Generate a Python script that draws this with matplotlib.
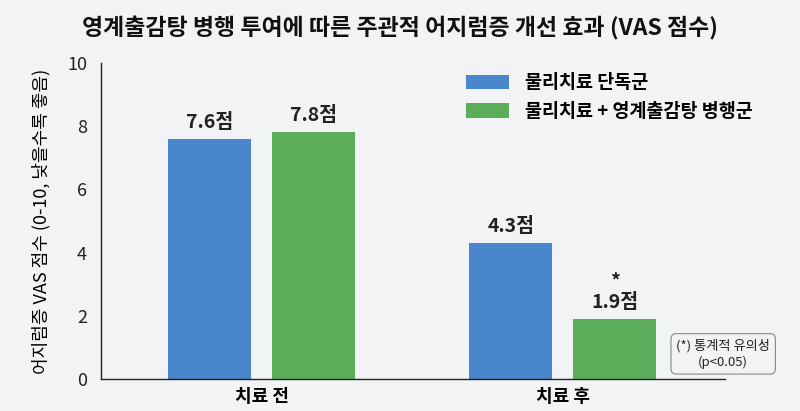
import matplotlib.pyplot as plt
import numpy as np

plt.rcParams['font.family'] = ['Noto Sans CJK KR', 'DejaVu Sans']

categories = ['치료 전', '치료 후']
series_names = ['물리치료 단독군', '물리치료 + 영계출감탕 병행군']
pt_only = [7.6, 4.3]
combined = [7.8, 1.9]
significant = [False, True]

bg = '#f1f3f5'
colors = ['#4a86cb', '#5bad5a']

fig = plt.figure(figsize=(8, 4.11), dpi=100, facecolor=bg)
ax = fig.add_axes([0.126, 0.078, 0.78, 0.769])
ax.set_facecolor(bg)

x = np.arange(len(categories))
width = 0.276
offset = 0.173

for vals, color, name, sign in [(pt_only, colors[0], series_names[0], -1),
                                (combined, colors[1], series_names[1], 1)]:
    bars = ax.bar(x + sign * offset, vals, width, color=color, label=name)
    for i, (b, v) in enumerate(zip(bars, vals)):
        cx = b.get_x() + b.get_width() / 2
        ax.text(cx, v + 0.22, f'{v}점', ha='center', va='bottom',
                fontsize=14, fontweight='bold', color='#222222')
        if sign == 1 and significant[i]:
            ax.text(cx, v + 0.9, '*', ha='center', va='bottom',
                    fontsize=14, fontweight='bold', color='#222222')

ax.set_xlim(-0.535, 1.538)
ax.set_ylim(0, 10)
ax.set_yticks([0, 2, 4, 6, 8, 10])
ax.set_xticks(x)
ax.set_xticklabels(categories, fontsize=13, fontweight='bold')
for lbl in ax.get_yticklabels():
    lbl.set_fontweight('light')
ax.tick_params(axis='y', length=0, labelsize=13, pad=10, colors='#222222')
ax.tick_params(axis='x', length=0, pad=6)
for s in ['top', 'right']:
    ax.spines[s].set_visible(False)
for s in ['left', 'bottom']:
    ax.spines[s].set_color('#222222')
    ax.spines[s].set_linewidth(1.0)

ax.set_ylabel('어지럼증 VAS 점수 (0-10, 낮을수록 좋음)', fontsize=13,
              fontweight='medium', labelpad=12)

ax.legend(loc='upper right', bbox_to_anchor=(0.962, 0.862),
          bbox_transform=fig.transFigure, frameon=False,
          prop={'size': 13.3, 'weight': 'bold'}, handlelength=2.3,
          handleheight=0.85, handletextpad=0.9, labelspacing=0.5)

fig.text(0.5, 0.932, '영계출감탕 병행 투여에 따른 주관적 어지럼증 개선 효과 (VAS 점수)',
         ha='center', va='center', fontsize=16.5, fontweight='bold', color='#111111')

fig.text(0.904, 0.139, '(*) 통계적 유의성\n(p<0.05)', ha='center', va='center',
         fontsize=9.5, color='#222222', linespacing=1.3,
         bbox=dict(boxstyle='round,pad=0.4', facecolor=bg, edgecolor='#888888', linewidth=0.8))

fig.savefig('out.png', dpi=100, facecolor=bg)
